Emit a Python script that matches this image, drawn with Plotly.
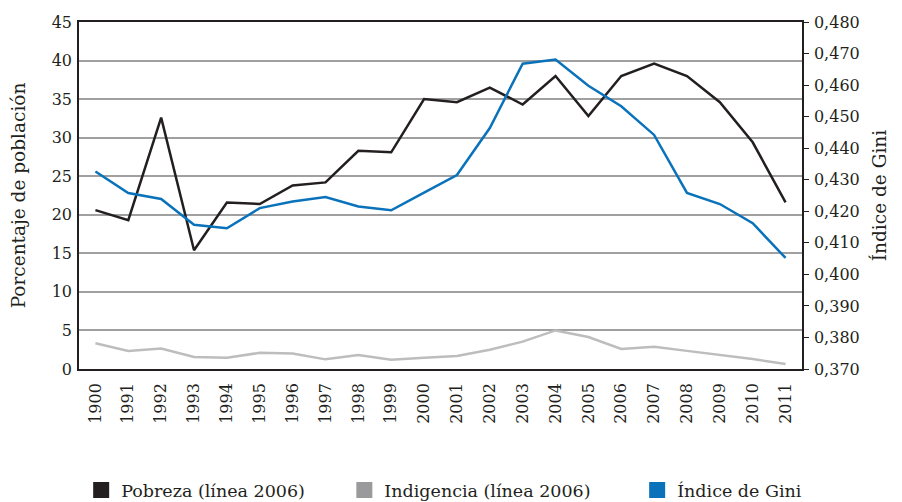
import plotly.graph_objects as go

years = ["1900", "1991", "1992", "1993", "1994", "1995", "1996", "1997", "1998", "1999",
         "2000", "2001", "2002", "2003", "2004", "2005", "2006", "2007", "2008", "2009",
         "2010", "2011"]

pobreza = [20.6, 19.3, 32.6, 15.4, 21.6, 21.4, 23.8, 24.2, 28.3, 28.1,
           35.0, 34.6, 36.5, 34.3, 38.0, 32.8, 38.0, 39.6, 38.0, 34.6,
           29.4, 21.6]

indigencia = [3.35, 2.35, 2.65, 1.55, 1.45, 2.1, 2.0, 1.25, 1.8, 1.2,
              1.45, 1.7, 2.5, 3.55, 5.0, 4.15, 2.6, 2.9, 2.35, 1.85,
              1.3, 0.65]

gini = [0.4326, 0.4258, 0.4239, 0.4157, 0.4146, 0.4210, 0.4231, 0.4245, 0.4215, 0.4203,
        0.4259, 0.4315, 0.4464, 0.4668, 0.4681, 0.4598, 0.4533, 0.4442, 0.4258, 0.4223,
        0.4162, 0.4052]

BLACK = "#231f20"
GRAY_LINE = "#bdbdbf"
GRAY_LEG = "#9a9a9c"
BLUE = "#0a72ba"
FONT = "DejaVu Serif"

fig = go.Figure()

fig.add_trace(go.Scatter(x=years, y=indigencia, mode="lines",
                         line=dict(color=GRAY_LINE, width=2.5), showlegend=False))
fig.add_trace(go.Scatter(x=years, y=pobreza, mode="lines",
                         line=dict(color=BLACK, width=2.5), showlegend=False))
fig.add_trace(go.Scatter(x=years, y=gini, mode="lines", yaxis="y2",
                         line=dict(color=BLUE, width=2.5), showlegend=False))

# legend entries (square swatches)
leg_items = [("Pobreza (línea 2006)", BLACK, "legend"),
             ("Indigencia (línea 2006)", GRAY_LEG, "legend2"),
             ("Índice de Gini", BLUE, "legend3")]
for name, col, lg in leg_items:
    fig.add_trace(go.Scatter(x=[None], y=[None], mode="markers", name=name,
                             marker=dict(symbol="square", size=17, color=col),
                             showlegend=True, legend=lg))

leg_common = dict(orientation="h", yanchor="middle", xanchor="left",
                  font=dict(family=FONT, size=17.5, color=BLACK),
                  bgcolor="rgba(0,0,0,0)", itemwidth=30)

fig.update_layout(
    width=902, height=502,
    margin=dict(l=71, r=108, t=14, b=141, autoexpand=False),
    paper_bgcolor="white", plot_bgcolor="white",
    separators=",.",
    font=dict(family=FONT, size=16, color=BLACK),
    xaxis=dict(type="category", range=[-0.5, 21.5], tickangle=-90, automargin=False,
               showline=True, linecolor=BLACK, linewidth=1.5, mirror=True,
               showgrid=False, ticks="outside", ticklen=6, tickcolor="rgba(0,0,0,0)",
               tickfont=dict(size=16, color=BLACK)),
    yaxis=dict(range=[0, 45], dtick=5, showgrid=True, gridcolor="#a0a0a0", gridwidth=1.5,
               showline=True, linecolor=BLACK, linewidth=1.5, automargin=False,
               ticks="outside", ticklen=2, tickcolor="rgba(0,0,0,0)",
               zeroline=False, tickfont=dict(size=16, color=BLACK),
               title=dict(text="Porcentaje de población", font=dict(size=18.5), standoff=22)),
    yaxis2=dict(range=[0.370, 0.480], dtick=0.01, tickformat=".3f", overlaying="y", side="right",
                showgrid=False, showline=True, linecolor=BLACK, linewidth=1.5, automargin=False,
                ticks="outside", ticklen=5, tickcolor=BLACK, zeroline=False,
                ticklabelstandoff=2,
                tickfont=dict(size=16, color=BLACK),
                title=dict(text="Índice de Gini", font=dict(size=18.5), standoff=14)),
    legend=dict(x=0.003, y=-0.349, **leg_common),
    legend2=dict(x=0.367, y=-0.349, **leg_common),
    legend3=dict(x=0.772, y=-0.349, **leg_common),
)

fig.write_html("out.html")
